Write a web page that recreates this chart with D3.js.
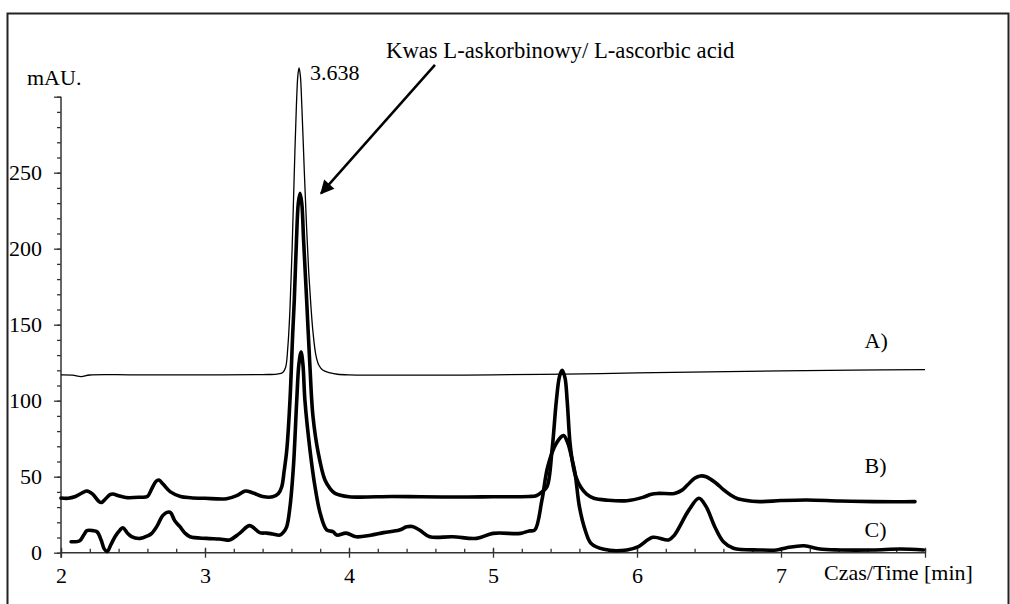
<!DOCTYPE html>
<html>
<head>
<meta charset="utf-8">
<script src="https://cdn.jsdelivr.net/npm/d3@7"></script>
<style>
  html, body { margin: 0; padding: 0; background: #fff; }
  svg text { font-family: "Liberation Serif", "Times New Roman", serif; fill: #000; }
</style>
</head>
<body>
<div id="chart"></div>
<script>
// Chromatogram: L-ascorbic acid, three traces A), B), C)

// x ticks (min) and y ticks (mAU)
const xTicks = [2, 3, 4, 5, 6, 7];
const yTicks = [0, 50, 100, 150, 200, 250];

// trace A (thin) - [time, mAU]
const traceA = [
  [2.0, 117], [2.08, 116.8], [2.14, 115.8], [2.2, 116.9], [2.5, 117], [3.0, 117],
  [3.4, 117.2], [3.5, 117.5], [3.54, 118.5], [3.56, 122], [3.575, 135], [3.59, 160],
  [3.605, 200], [3.62, 250], [3.635, 295], [3.645, 314], [3.653, 319], [3.662, 314],
  [3.672, 295], [3.69, 250], [3.705, 215], [3.72, 185], [3.735, 163], [3.75, 145],
  [3.77, 130], [3.79, 123.5], [3.82, 120], [3.87, 118.3], [3.92, 117.4], [4.0, 117],
  [5.0, 117], [5.5, 117.5], [6.0, 118.3], [6.5, 119], [7.0, 119.6], [7.5, 120.1], [8.0, 120.5]
];

// trace B (thick)
const traceB = [
  [2.0, 36], [2.05, 35.8], [2.1, 37], [2.15, 39.5], [2.18, 40.6], [2.22, 38.5],
  [2.26, 34], [2.28, 33], [2.31, 35.5], [2.34, 38.2], [2.36, 38.6], [2.4, 37.5],
  [2.45, 36.3], [2.55, 36.5], [2.6, 37], [2.63, 42], [2.66, 47], [2.68, 47.8],
  [2.71, 45], [2.76, 40], [2.83, 37], [2.9, 36.2], [3.0, 35.8], [3.15, 35.5],
  [3.22, 37.5], [3.28, 40.6], [3.33, 39.5], [3.4, 37], [3.47, 36.8], [3.51, 39],
  [3.533, 43.4], [3.55, 54], [3.568, 67.6], [3.59, 100], [3.609, 144], [3.62, 166],
  [3.635, 205], [3.648, 230], [3.66, 236.4], [3.672, 230], [3.685, 205], [3.706, 166],
  [3.729, 122], [3.75, 89.5], [3.787, 65.4], [3.833, 47.8], [3.87, 42], [3.903, 39],
  [4.0, 36.8], [4.3, 37], [4.5, 36.8], [4.8, 36.6], [5.0, 36.8], [5.25, 37],
  [5.3, 37.5], [5.34, 40], [5.375, 43.4], [5.41, 67.6], [5.44, 100], [5.462, 116],
  [5.48, 120], [5.5, 115], [5.515, 100], [5.535, 72], [5.555, 58], [5.575, 50],
  [5.61, 43], [5.65, 38.5], [5.7, 35.8], [5.8, 34.5], [5.93, 34.2], [6.04, 36.4],
  [6.1, 38.5], [6.15, 39], [6.26, 39], [6.31, 41], [6.35, 44.5], [6.4, 49],
  [6.44, 50.5], [6.48, 50], [6.55, 45.7], [6.6, 41.5], [6.65, 38], [6.7, 35.5],
  [6.74, 34.7], [6.85, 33.6], [7.0, 34.3], [7.18, 34.7], [7.41, 34], [7.64, 33.6],
  [7.8, 33.5], [7.93, 33.6]
];

// trace C (thick)
const traceC = [
  [2.07, 7.2], [2.13, 7.9], [2.16, 12], [2.18, 14.5], [2.22, 14.5], [2.25, 13.8],
  [2.28, 8], [2.3, 2.5], [2.32, 0.7], [2.35, 6], [2.375, 10.5], [2.41, 15],
  [2.43, 16.4], [2.46, 13], [2.49, 10.5], [2.55, 9.4], [2.6, 11], [2.63, 12.7],
  [2.67, 18], [2.71, 24.8], [2.757, 26.6], [2.79, 21], [2.826, 17.1], [2.86, 13],
  [2.896, 10.5], [3.01, 9.4], [3.1, 9], [3.17, 8.4], [3.24, 12.7], [3.31, 17.8],
  [3.38, 13.2], [3.43, 12.9], [3.47, 12.3], [3.52, 11.6], [3.545, 13.5], [3.567, 17],
  [3.59, 30], [3.614, 56.6], [3.637, 100], [3.652, 124], [3.667, 132], [3.68, 124],
  [3.694, 100], [3.729, 67.6], [3.764, 43.4], [3.8, 26], [3.845, 15], [3.89, 13.8],
  [3.915, 11.6], [3.98, 12.9], [4.05, 10.5], [4.15, 11.5], [4.24, 13.2], [4.35, 14.9],
  [4.4, 17], [4.44, 17.2], [4.49, 14.9], [4.56, 10.5], [4.72, 10.5], [4.887, 9.4],
  [5.0, 12.7], [5.19, 12.7], [5.25, 14.3], [5.29, 14.9], [5.34, 34.7], [5.38, 56.6],
  [5.44, 72], [5.49, 77], [5.52, 72], [5.545, 63], [5.57, 52.2], [5.6, 30.3],
  [5.64, 14.9], [5.68, 6.2], [5.77, 2.2], [5.93, 1.8], [6.01, 4], [6.11, 10.1],
  [6.22, 8.4], [6.26, 11.6], [6.36, 28], [6.43, 35.8], [6.48, 30.3], [6.54, 17.1],
  [6.6, 7.2], [6.67, 2.9], [6.85, 1.8], [6.97, 1.8], [7.04, 3.3], [7.16, 4.6],
  [7.27, 2.4], [7.41, 1.8], [7.64, 1.8], [7.83, 2.4], [7.99, 1.8]
];

// trace labels and annotations, in data units
const traceLabels = [
  { text: 'A)', t: 7.58, v: 134.5 },
  { text: 'B)', t: 7.58, v: 52.2 },
  { text: 'C)', t: 7.58, v: 10.5 }
];
const peakLabel = { text: '3.638', t: 3.729, v: 311 };
const arrowNote = { text: 'Kwas L-askorbinowy/ L-ascorbic acid', t: 4.257, v: 325.3,
                    from: [4.597, 320.9], to: [3.806, 236.4] };

(function() {
  const W = 1010, H = 604;
  const serif = '"Liberation Serif", "Times New Roman", serif';

  const svg = d3.select('#chart')
    .append('svg')
    .attr('width', W)
    .attr('height', H)
    .style('font-family', serif);

  // outer frame
  svg.append('rect')
    .attr('x', 7.5)
    .attr('y', 13.5)
    .attr('width', 1001)
    .attr('height', 620)
    .attr('fill', 'none')
    .attr('stroke', '#222')
    .attr('stroke-width', 2);

  const x = d3.scaleLinear().domain([2, 8]).range([61, 925]);
  const y = d3.scaleLinear().domain([0, 300]).range([552.7, 96.7]);

  // y axis
  svg.append('line')
    .attr('x1', x(2)).attr('x2', x(2))
    .attr('y1', y(300)).attr('y2', y(0) + 5)
    .attr('stroke', '#333').attr('stroke-width', 1.5);

  const yMinor = svg.append('g')
    .attr('transform', `translate(${x(2)},0)`)
    .call(d3.axisLeft(y).tickValues(d3.range(0, 301, 10)).tickSize(4).tickSizeOuter(0).tickFormat(''));
  yMinor.select('.domain').remove();

  const yMajor = svg.append('g')
    .attr('transform', `translate(${x(2)},0)`)
    .call(d3.axisLeft(y).tickValues(yTicks.concat([300])).tickSize(7).tickSizeOuter(0).tickPadding(12)
      .tickFormat(d => d === 300 ? '' : d));
  yMajor.select('.domain').remove();
  yMajor.attr('font-family', null);
  yMajor.selectAll('text')
    .style('font-family', serif)
    .style('font-size', '22px')
    .attr('fill', '#000');

  // x axis
  svg.append('line')
    .attr('x1', x(2)).attr('x2', x(8))
    .attr('y1', y(0)).attr('y2', y(0))
    .attr('stroke', '#333').attr('stroke-width', 1.5);

  const xMinor = svg.append('g')
    .attr('transform', `translate(0,${y(0)})`)
    .call(d3.axisBottom(x).tickValues(d3.range(2, 8.01, 0.2)).tickSize(-4).tickSizeOuter(0).tickFormat(''));
  xMinor.select('.domain').remove();

  const xMajor = svg.append('g')
    .attr('transform', `translate(0,${y(0)})`)
    .call(d3.axisBottom(x).tickValues(xTicks.concat([8])).tickSize(5).tickSizeOuter(0).tickPadding(10)
      .tickFormat(d => d === 8 ? '' : d));
  xMajor.select('.domain').remove();
  xMajor.attr('font-family', null);
  xMajor.selectAll('.tick line').attr('y1', -5);
  xMajor.selectAll('text')
    .style('font-family', serif)
    .style('font-size', '22px')
    .attr('fill', '#000');

  svg.selectAll('.tick line').attr('stroke', '#333').attr('stroke-width', 1.3);

  // axis titles
  svg.append('text')
    .attr('x', 27)
    .attr('y', 85)
    .style('font-size', '22px')
    .text('mAU.');

  svg.append('text')
    .attr('x', 824)
    .attr('y', 580)
    .style('font-size', '22px')
    .text('Czas/Time [min]');

  // traces
  const line = d3.line()
    .x(d => x(d[0]))
    .y(d => y(d[1]))
    .curve(d3.curveCatmullRom.alpha(0.5));

  svg.append('path')
    .datum(traceA)
    .attr('d', line)
    .attr('fill', 'none')
    .attr('stroke', '#000')
    .attr('stroke-width', 1.3);

  [traceB, traceC].forEach(tr => {
    svg.append('path')
      .datum(tr)
      .attr('d', line)
      .attr('fill', 'none')
      .attr('stroke', '#000')
      .attr('stroke-width', 3.6)
      .attr('stroke-linejoin', 'round')
      .attr('stroke-linecap', 'round');
  });

  // trace labels
  svg.selectAll('.trace-label')
    .data(traceLabels)
    .enter()
    .append('text')
    .attr('class', 'trace-label')
    .attr('x', d => x(d.t))
    .attr('y', d => y(d.v))
    .style('font-size', '22px')
    .text(d => d.text);

  // peak time
  svg.append('text')
    .attr('x', x(peakLabel.t))
    .attr('y', y(peakLabel.v))
    .style('font-size', '22px')
    .text(peakLabel.text);

  // annotation arrow
  svg.append('defs').append('marker')
    .attr('id', 'arrowhead')
    .attr('viewBox', '0 0 10 10')
    .attr('refX', 9)
    .attr('refY', 5)
    .attr('markerWidth', 6.5)
    .attr('markerHeight', 5.5)
    .attr('markerUnits', 'strokeWidth')
    .attr('orient', 'auto')
    .append('path')
    .attr('d', 'M0,0 L10,5 L0,10 Z')
    .attr('fill', '#000');

  svg.append('line')
    .attr('x1', x(arrowNote.from[0]))
    .attr('y1', y(arrowNote.from[1]))
    .attr('x2', x(arrowNote.to[0]))
    .attr('y2', y(arrowNote.to[1]))
    .attr('stroke', '#000')
    .attr('stroke-width', 2.5)
    .attr('marker-end', 'url(#arrowhead)');

  svg.append('text')
    .attr('x', x(arrowNote.t))
    .attr('y', y(arrowNote.v))
    .style('font-size', '22.7px')
    .text(arrowNote.text);
})();
</script>
</body>
</html>
